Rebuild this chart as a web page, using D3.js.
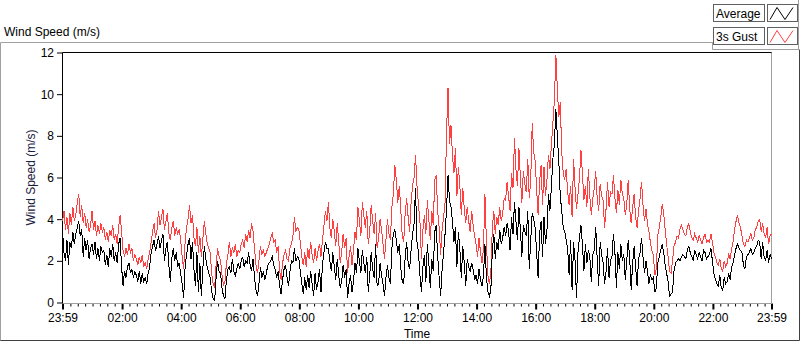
<!DOCTYPE html>
<html lang="en">
<head>
<meta charset="UTF-8">
<title>Wind Speed (m/s)</title>
<script src="https://d3js.org/d3.v7.min.js"></script>
<style>
  body { margin: 0; background: #fff; }
  svg { display: block; font-family: "Liberation Sans", Arial, sans-serif; font-size: 12px; }
</style>
</head>
<body>
<svg width="800" height="342"></svg>
<script>
// readings every 3 minutes, starting 23:59, one row per hour
const startTime = new Date(2020, 0, 1, 23, 59);
const endTime = new Date(2020, 0, 2, 23, 59);
const stepMinutes = 3;

const avgSpeed = [
  3.5, 2.4, 2.0, 3.0, 1.8, 2.9, 2.6, 3.4, 2.8, 3.3, 3.6, 3.9, 3.2, 3.5, 2.2, 3.1, 2.5, 3.0, 2.1, 2.6,
  2.8, 2.3, 2.9, 2.1, 2.6, 2.0, 2.7, 2.4, 2.5, 1.8, 2.3, 1.7, 2.6, 2.2, 2.8, 2.0, 2.4, 1.9, 2.8, 3.1,
  1.7, 0.8, 1.5, 1.2, 1.7, 1.9, 1.4, 1.6, 1.2, 1.5, 1.3, 1.0, 1.5, 0.9, 1.4, 1.0, 1.2, 0.9, 1.4, 1.7,
  2.4, 2.7, 3.0, 2.5, 2.8, 3.2, 2.6, 3.0, 3.3, 2.0, 2.6, 2.9, 1.8, 1.0, 2.1, 2.6, 2.0, 2.4, 1.7, 1.9,
  1.4, 0.9, 0.2, 1.7, 2.3, 2.8, 3.1, 2.1, 2.9, 1.6, 0.8, 2.4, 0.5, 1.9, 0.3, 1.6, 2.7, 2.1, 1.7, 1.4,
  1.2, 0.5, 0.2, 0.1, 1.2, 2.0, 1.5, 1.4, 0.7, 0.3, 0.2, 1.1, 1.6, 1.7, 1.4, 2.1, 1.5, 1.3, 1.6, 1.9,
  1.6, 2.0, 2.2, 1.7, 2.0, 1.9, 2.4, 1.8, 1.5, 2.1, 1.2, 0.6, 0.3, 0.9, 1.7, 1.2, 1.5, 1.1, 1.4, 1.8,
  1.9, 2.0, 2.2, 1.8, 1.6, 1.2, 1.5, 0.8, 0.4, 1.1, 1.6, 1.8, 1.2, 0.8, 1.5, 2.0, 1.9, 2.6, 2.0, 2.2,
  2.1, 1.5, 0.9, 0.4, 1.2, 0.6, 1.3, 0.7, 1.5, 0.9, 0.3, 1.4, 0.6, 1.0, 1.6, 0.5, 1.8, 2.4, 2.9, 2.6,
  2.6, 2.0, 1.5, 2.4, 1.7, 1.1, 2.1, 1.3, 0.7, 1.0, 1.8, 1.2, 1.6, 0.2, 0.9, 1.3, 0.5, 1.0, 1.9, 1.4,
  2.6, 2.0, 1.4, 2.5, 1.9, 1.4, 2.2, 0.5, 1.3, 2.4, 1.6, 1.2, 2.8, 0.8, 0.9, 1.9, 1.3, 0.9, 0.3, 1.2,
  1.8, 1.2, 0.9, 2.6, 3.3, 3.5, 3.0, 2.4, 2.8, 1.7, 1.0, 0.9, 2.2, 2.9, 1.9, 1.6, 2.5, 3.3, 3.8, 5.5,
  2.9, 2.4, 1.3, 0.5, 1.7, 2.3, 1.0, 2.8, 1.9, 0.7, 2.1, 1.5, 3.4, 3.7, 2.2, 1.2, 0.3, 1.6, 2.4, 3.3,
  4.5, 6.1, 4.9, 4.6, 3.9, 2.9, 3.6, 1.7, 3.4, 2.6, 1.2, 2.7, 1.9, 0.8, 2.1, 1.7, 1.5, 1.9, 1.6, 1.1,
  1.3, 0.9, 1.6, 1.1, 0.8, 1.3, 2.8, 1.2, 0.5, 0.3, 0.6, 2.5, 3.3, 2.1, 2.9, 2.5, 3.5, 2.8, 3.1, 3.6,
  3.2, 3.8, 3.4, 2.5, 4.1, 3.3, 4.8, 3.9, 3.0, 4.6, 3.5, 2.2, 3.7, 3.4, 3.2, 4.4, 1.6, 3.0, 4.3, 4.0,
  3.6, 2.4, 1.2, 3.3, 3.9, 2.2, 4.1, 2.8, 3.5, 5.2, 4.4, 5.6, 6.9, 7.6, 9.3, 8.0, 6.8, 5.1, 4.4, 3.6,
  3.4, 3.0, 2.6, 1.3, 3.0, 0.6, 2.9, 2.0, 0.2, 2.4, 3.1, 3.7, 2.8, 1.5, 2.8, 1.9, 2.5, 2.2, 1.0, 2.3,
  2.5, 3.6, 2.1, 0.8, 2.9, 2.3, 1.9, 0.9, 1.5, 2.6, 1.2, 2.0, 2.2, 3.3, 2.4, 0.7, 2.4, 1.6, 2.8, 2.0,
  2.3, 1.1, 2.0, 3.0, 2.1, 0.6, 1.9, 2.7, 1.7, 0.8, 2.1, 2.4, 3.1, 2.2, 1.4, 2.0, 1.5, 0.9, 1.3, 1.1,
  1.2, 0.5, 0.7, 1.9, 2.2, 2.5, 2.8, 2.4, 1.8, 1.4, 1.0, 0.3, 0.4, 0.5, 1.5, 1.9, 2.0, 2.1, 2.0, 2.2,
  2.3, 2.2, 2.1, 2.5, 2.7, 2.4, 2.2, 2.0, 2.5, 2.3, 2.1, 2.4, 2.2, 2.0, 2.5, 2.4, 2.1, 2.2, 2.3, 2.6,
  2.0, 1.4, 1.1, 0.9, 0.8, 1.3, 0.7, 0.6, 1.2, 0.9, 1.0, 1.4, 1.1, 1.7, 1.9, 2.3, 2.6, 2.8, 2.6, 2.5,
  2.4, 1.8, 1.6, 2.2, 2.3, 2.4, 2.6, 2.3, 2.4, 2.6, 2.7, 3.0, 2.9, 2.1, 2.9, 2.2, 2.0, 2.5, 1.9, 2.3,
  2.1
];

const gustSpeed = [
  3.9, 4.4, 3.5, 4.1, 3.3, 4.3, 3.7, 4.6, 3.9, 4.2, 4.8, 5.2, 4.1, 4.7, 3.8, 4.3, 3.6, 4.0, 3.4, 3.7,
  4.4, 3.5, 3.9, 3.2, 3.7, 3.3, 3.8, 3.4, 3.6, 3.0, 3.4, 2.9, 3.5, 3.2, 3.7, 3.0, 3.3, 2.8, 3.6, 4.2,
  3.4, 2.5, 2.2, 2.6, 2.3, 2.8, 2.4, 2.6, 2.0, 2.3, 2.1, 1.8, 2.2, 1.9, 2.3, 1.7, 1.9, 1.6, 2.1, 2.4,
  2.9, 3.4, 3.8, 3.1, 3.5, 4.4, 3.7, 4.1, 4.5, 3.5, 3.9, 4.3, 3.3, 3.0, 3.6, 3.9, 3.2, 3.6, 3.3, 3.5,
  3.0, 2.2, 1.6, 2.9, 3.6, 4.0, 4.7, 3.8, 4.2, 3.1, 2.7, 3.6, 2.4, 3.2, 2.2, 3.0, 3.9, 3.3, 2.8, 2.6,
  2.4, 1.4, 0.9, 0.7, 1.8, 2.6, 2.2, 2.0, 1.3, 0.8, 1.0, 1.9, 2.3, 2.9, 2.2, 2.6, 2.4, 2.8, 2.2, 2.5,
  2.4, 2.8, 3.0, 2.6, 3.3, 2.9, 3.5, 3.1, 3.8, 3.4, 2.6, 1.8, 1.4, 2.0, 2.7, 2.3, 2.5, 2.2, 2.4, 2.6,
  2.8, 3.1, 3.3, 2.9, 3.0, 2.4, 2.7, 1.5, 1.1, 1.9, 2.3, 2.5, 2.1, 2.0, 2.6, 2.8, 3.2, 4.1, 3.4, 3.6,
  3.5, 2.9, 2.2, 1.8, 2.4, 1.7, 2.6, 2.1, 2.9, 2.3, 1.9, 2.6, 2.0, 2.5, 2.8, 2.2, 3.0, 3.7, 4.4, 3.9,
  4.8, 3.6, 3.1, 4.0, 3.4, 2.7, 3.8, 2.9, 1.9, 2.4, 3.3, 2.6, 3.1, 1.4, 2.2, 2.7, 1.8, 2.5, 3.4, 3.0,
  4.6, 3.9, 3.2, 4.8, 4.2, 3.6, 4.4, 2.8, 3.4, 4.7, 3.9, 3.3, 4.3, 2.6, 3.1, 4.0, 3.5, 2.8, 2.1, 3.0,
  4.0, 3.3, 3.0, 4.6, 5.2, 6.6, 5.9, 4.8, 5.6, 4.5, 3.2, 2.9, 4.3, 5.0, 4.1, 3.4, 4.8, 5.6, 6.0, 7.1,
  5.6, 4.7, 3.9, 2.1, 3.5, 4.2, 3.3, 4.9, 4.0, 3.0, 4.4, 3.7, 5.9, 6.1, 4.4, 3.6, 2.3, 3.5, 4.1, 4.8,
  8.2, 10.3, 7.6, 8.5, 7.1, 6.2, 7.4, 5.1, 6.5, 5.6, 4.2, 5.5, 4.5, 3.8, 4.6, 3.9, 3.4, 4.4, 3.7, 3.2,
  2.8, 2.2, 3.1, 2.4, 1.9, 2.6, 5.2, 2.9, 1.3, 0.9, 1.4, 3.6, 4.4, 3.3, 4.1, 3.7, 4.6, 3.9, 4.3, 5.0,
  4.9, 5.8, 5.1, 4.4, 6.2, 5.5, 7.9, 6.4, 5.6, 7.4, 6.0, 4.8, 6.3, 5.7, 5.3, 6.9, 5.0, 5.9, 8.6, 7.2,
  6.8, 5.4, 4.2, 5.8, 6.6, 4.7, 6.5, 5.1, 5.9, 7.1, 6.4, 7.6, 8.6, 9.7, 11.9, 10.3, 8.9, 9.6, 7.2, 6.2,
  5.9, 6.4, 5.3, 4.7, 5.6, 4.1, 6.9, 5.5, 4.5, 5.2, 6.0, 7.3, 6.2, 4.9, 5.6, 4.6, 6.4, 5.1, 4.2, 5.0,
  5.5, 6.3, 5.0, 4.4, 5.7, 5.1, 4.9, 3.6, 4.5, 5.8, 4.6, 5.3, 5.2, 6.1, 5.0, 4.3, 5.4, 4.7, 5.9, 5.2,
  5.0, 4.2, 4.7, 5.9, 4.5, 3.8, 4.6, 5.2, 4.1, 3.6, 4.4, 5.0, 5.8, 4.7, 3.9, 4.5, 3.8, 3.4, 2.9, 2.5,
  2.3, 1.3, 1.6, 3.2, 3.6, 4.1, 4.7, 4.3, 3.5, 2.8, 2.2, 1.5, 1.4, 2.0, 2.7, 2.9, 3.2, 3.1, 3.5, 3.7,
  3.5, 3.3, 3.2, 3.6, 3.8, 3.4, 3.1, 3.0, 3.3, 3.1, 2.9, 3.2, 3.0, 2.8, 3.1, 3.3, 2.9, 3.0, 2.9, 3.3,
  2.9, 2.4, 2.2, 1.9, 1.8, 2.1, 1.6, 1.5, 2.0, 1.7, 1.9, 2.3, 2.1, 2.6, 2.9, 3.5, 3.9, 4.2, 3.8, 3.6,
  3.2, 2.8, 2.7, 3.0, 2.9, 3.1, 3.3, 3.0, 3.1, 3.5, 3.6, 3.9, 4.0, 3.4, 3.8, 3.3, 3.1, 3.6, 2.8, 3.2,
  3.3
];

const yTicks = [0, 2, 4, 6, 8, 10, 12];
const legendNames = ["Average", "3s Gust"];

const svg = d3.select("svg");
const plot = { left: 62.5, right: 771.5, top: 52.5, bottom: 302.5 };

const x = d3.scaleTime().domain([startTime, endTime]).range([plot.left, plot.right]);
const y = d3.scaleLinear().domain([0, 12]).range([plot.bottom, plot.top]);

const timeAt = i => d3.timeMinute.offset(startTime, i * stepMinutes);
const fmt = d3.timeFormat("%H:%M");

// outer panel
svg.append("path")
  .attr("d", "M0.5,341 V42.5 H712.5")
  .attr("fill", "none").attr("stroke", "#a0a0a0");
svg.append("path")
  .attr("d", "M0.5,340.5 H799.5 V49.5")
  .attr("fill", "none").attr("stroke", "#404040");
// legend panel
svg.append("path")
  .attr("d", "M712.5,42 V49.5 H799.5 M798.5,0 V49.5")
  .attr("fill", "none").attr("stroke", "#a0a0a0");

svg.append("text")
  .attr("x", 4).attr("y", 36)
  .text("Wind Speed (m/s)");

// legend
const legend = svg.append("g");
legendNames.forEach((name, i) => {
  const top = 4.5 + i * 23;
  const g = legend.append("g");
  g.append("rect").attr("x", 713.5).attr("y", top).attr("width", 51).attr("height", 17)
    .attr("fill", "#fff").attr("stroke", "#606060");
  g.append("text").attr("x", 716).attr("y", top + 13).text(name);
  g.append("rect").attr("x", 767.5).attr("y", top).attr("width", 30).attr("height", 17)
    .attr("fill", "#fff").attr("stroke", "#606060");
  g.append("path")
    .attr("d", `M770,${top + 15} L777,${top + 3} L785,${top + 15} L793,${top + 3}`)
    .attr("fill", "none")
    .attr("stroke", i === 0 ? "#000" : "#ff4040");
});

// axes
svg.append("g")
  .attr("transform", `translate(${plot.left - 0.5},0)`)
  .call(d3.axisLeft(y).tickValues(yTicks).tickSize(5).tickPadding(3));

// 2-hour labels between the two 23:59 ends
const majorTicks = [startTime]
  .concat(d3.timeHour.every(2).range(startTime, endTime).filter(t => t - startTime > 3600000))
  .concat([endTime]);
const minorTicks = d3.timeMinute.every(15).range(startTime, endTime);

svg.append("g")
  .attr("transform", `translate(0,${plot.bottom + 1})`)
  .call(d3.axisBottom(x).tickValues(minorTicks).tickSize(3).tickFormat(""));
const xAxis = svg.append("g")
  .attr("transform", `translate(0,${plot.bottom + 1})`)
  .call(d3.axisBottom(x).tickValues(majorTicks).tickSize(6).tickPadding(4).tickFormat(fmt));

svg.selectAll(".domain").remove();
svg.selectAll(".tick text").attr("font-family", "Liberation Sans, Arial, sans-serif").attr("font-size", 12).attr("fill", "#000");
xAxis.selectAll(".tick line").attr("stroke-width", 2);

// plot frame
svg.append("rect")
  .attr("x", plot.left).attr("y", plot.top)
  .attr("width", plot.right - plot.left).attr("height", plot.bottom - plot.top + 1)
  .attr("fill", "#fff").attr("stroke", "#a0a0a0");
svg.append("path")
  .attr("d", `M${plot.left},${plot.bottom + 1} V${plot.top} H${plot.right}`)
  .attr("fill", "none").attr("stroke", "#000");

// series (aliased like the original instrument plot)
const line = d3.line()
  .x((d, i) => x(timeAt(i)))
  .y(d => y(d));

svg.append("path")
  .datum(gustSpeed)
  .attr("d", line)
  .attr("fill", "none")
  .attr("stroke", "#ff4040")
  .attr("stroke-width", 1)
  .attr("shape-rendering", "crispEdges");

svg.append("path")
  .datum(avgSpeed)
  .attr("d", line)
  .attr("fill", "none")
  .attr("stroke", "#000")
  .attr("stroke-width", 1)
  .attr("shape-rendering", "crispEdges");

// axis titles
svg.append("text")
  .attr("x", (plot.left + plot.right) / 2).attr("y", 338)
  .attr("text-anchor", "middle")
  .text("Time");

svg.append("text")
  .attr("transform", `translate(35,${(plot.top + plot.bottom) / 2}) rotate(-90)`)
  .attr("text-anchor", "middle")
  .attr("fill", "#1a2040")
  .text("Wind Speed (m/s)");
</script>
</body>
</html>
